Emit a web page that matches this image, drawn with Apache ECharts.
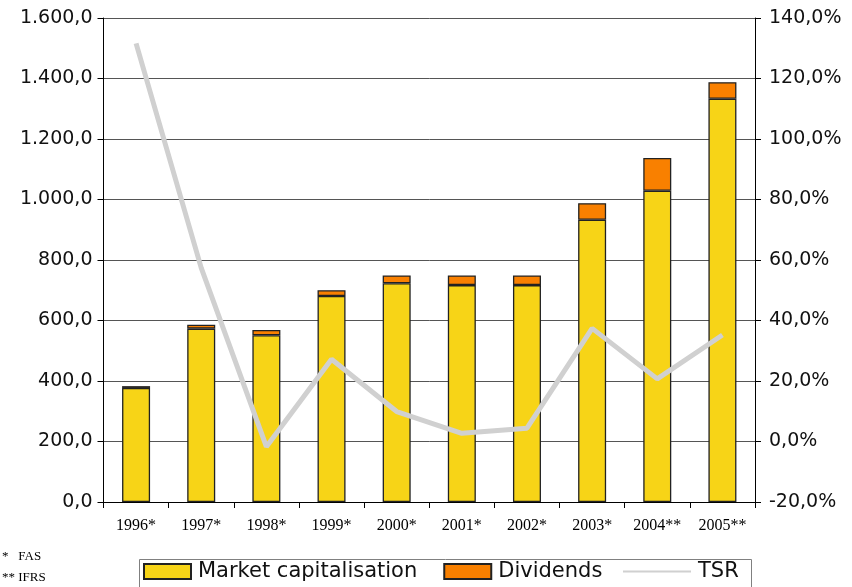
<!DOCTYPE html>
<html>
<head>
<meta charset="utf-8">
<script src="https://cdn.jsdelivr.net/npm/echarts@6/dist/echarts.min.js"></script>
<style>
  html, body { margin: 0; padding: 0; background: #fff; }
  #chart { width: 852px; height: 587px; }
  .note { position: absolute; left: 2px; font-family: "Liberation Serif", "DejaVu Serif", serif; font-size: 13px; color: #000; }
</style>
</head>
<body>
<div id="chart"></div>
<div class="note" style="top:548px;">*&nbsp;&nbsp;&nbsp;FAS</div>
<div class="note" style="top:569px;">** IFRS</div>
<script>
// Years (asterisks mark the accounting standard used)
const years = ['1996*', '1997*', '1998*', '1999*', '2000*', '2001*', '2002*', '2003*', '2004**', '2005**'];
// Market capitalisation, left axis
const marketCap = [377, 573, 551, 681, 723, 717, 717, 933, 1029, 1333];
// Dividends, stacked on top of market capitalisation
const dividends = [6, 13, 18, 19, 26, 32, 32, 55, 108, 55];
// Total shareholder return in %, right axis
const tsr = [131.6, 57.4, -1.7, 27.2, 9.9, 2.7, 4.4, 37.4, 20.7, 35.2];

const fmtLeft = v => {
  const s = Math.round(v).toString().replace(/\B(?=(\d{3})+(?!\d))/g, '.');
  return s + ',0';
};
const fmtRight = v => v.toFixed(1).replace('.', ',') + '%';

const axisFont = { fontFamily: 'DejaVu Sans, Verdana, sans-serif', fontSize: 19, color: '#111' };
const legendText = { fontFamily: 'DejaVu Sans, Verdana, sans-serif', fontSize: 21, color: '#111', padding: [0, 0, 0, 2] };

const chart = echarts.init(document.getElementById('chart'));
chart.setOption({
  animation: false,
  backgroundColor: '#fff',
  grid: { left: 103.5, right: 97, top: 18, bottom: 85 },
  // frame around the legend entries
  graphic: [{
    type: 'rect', left: 137, top: 557,
    shape: { width: 612, height: 40 },
    style: { fill: 'none', stroke: '#808080', lineWidth: 1 },
    silent: true
  }],
  legend: [
    {
      left: 143, top: 561, padding: 0,
      itemGap: 26, itemWidth: 47, itemHeight: 15,
      icon: 'rect',
      textStyle: legendText,
      data: ['Market capitalisation', 'Dividends']
    },
    {
      left: 622, top: 561, padding: 0,
      itemWidth: 68, itemHeight: 15,
      textStyle: legendText,
      data: [{ name: 'TSR', itemStyle: { opacity: 0 } }]
    }
  ],
  xAxis: {
    type: 'category',
    data: years,
    axisLine: { lineStyle: { color: '#000', width: 1 } },
    axisTick: { show: true, length: 6, lineStyle: { color: '#000' } },
    axisLabel: { interval: 0, fontFamily: 'Liberation Serif, serif', fontSize: 16, color: '#000', margin: 16 }
  },
  yAxis: [
    {
      type: 'value', min: 0, max: 1600, interval: 200,
      axisLine: { show: true, lineStyle: { color: '#000' } },
      axisTick: { show: true, inside: false, length: 6, lineStyle: { color: '#000' } },
      axisLabel: Object.assign({ formatter: fmtLeft, margin: 11 }, axisFont),
      splitLine: { show: true, lineStyle: { color: '#555', width: 1 } }
    },
    {
      type: 'value', min: -20, max: 140, interval: 20,
      position: 'right',
      axisLine: { show: true, lineStyle: { color: '#000' } },
      axisTick: { show: true, length: 6, lineStyle: { color: '#000' } },
      axisLabel: Object.assign({ formatter: fmtRight, margin: 14 }, axisFont),
      splitLine: { show: false }
    }
  ],
  series: [
    {
      name: 'Market capitalisation', type: 'bar', stack: 'total',
      data: marketCap, barWidth: 28,
      itemStyle: { color: '#F7D417', borderColor: '#222', borderWidth: 1.3 }
    },
    {
      name: 'Dividends', type: 'bar', stack: 'total',
      data: dividends, barWidth: 28,
      itemStyle: { color: '#F98000', borderColor: '#222', borderWidth: 1.3 }
    },
    {
      name: 'TSR', type: 'line', yAxisIndex: 1,
      data: tsr, symbol: 'none', z: 5,
      lineStyle: { color: '#D0D0D0', width: 5 },
      itemStyle: { color: '#D0D0D0' }
    }
  ]
});
</script>
</body>
</html>
